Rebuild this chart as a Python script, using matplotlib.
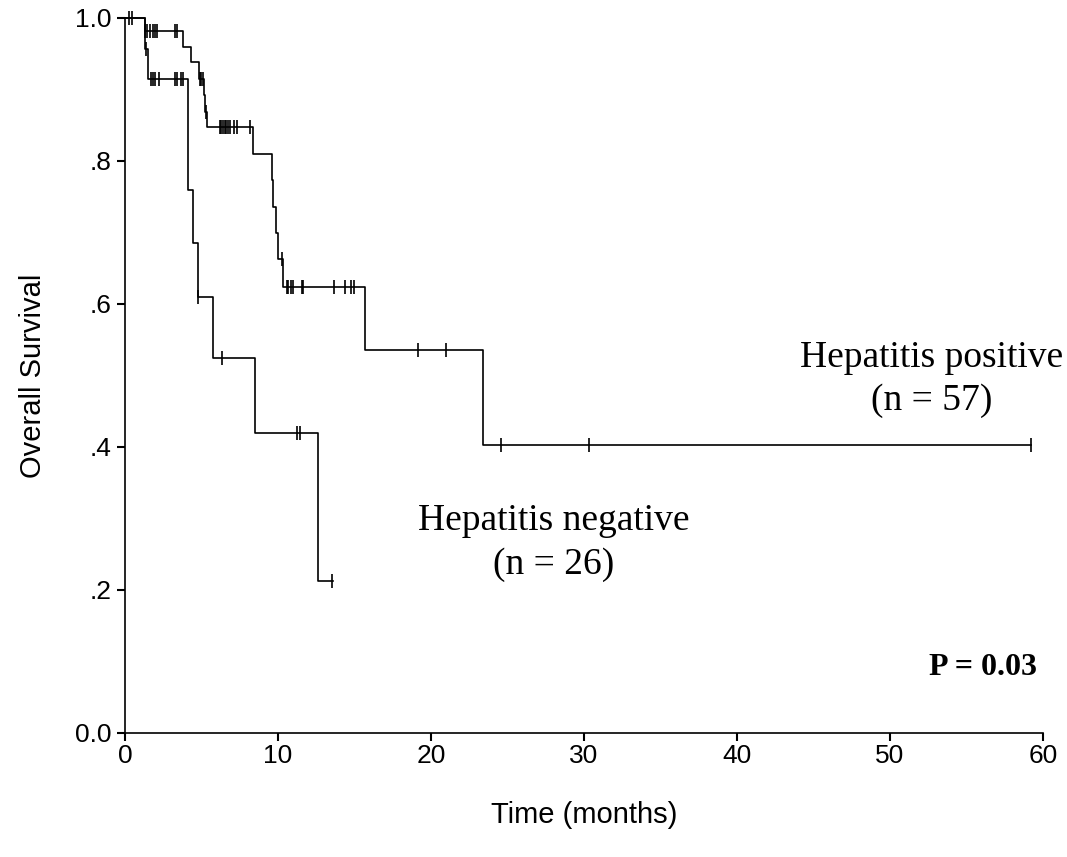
import numpy as np
import matplotlib.pyplot as plt

# Kaplan-Meier steps (time in months, survival after the step)
pos_times = [0, 1.3, 3.8, 4.3, 4.85, 5.2, 5.25, 5.38, 8.37, 9.6, 9.7, 9.85, 10.0, 10.35, 15.7, 23.4, 59.2]
pos_surv = [1.0, 0.982, 0.960, 0.938, 0.915, 0.892, 0.869, 0.847, 0.810, 0.773, 0.735, 0.699, 0.663, 0.624, 0.536, 0.402, 0.402]

neg_times = [0, 1.3, 1.5, 4.1, 4.45, 4.75, 5.76, 8.5, 12.6, 13.6]
neg_surv = [1.0, 0.957, 0.915, 0.760, 0.685, 0.610, 0.524, 0.419, 0.212, 0.212]

# censored observations
pos_cens_t = [0.3, 0.45, 1.31, 1.42, 1.63, 1.85, 2.0, 2.13, 3.27, 3.44,
              4.9, 5.0, 5.11, 5.3, 6.2, 6.3, 6.42, 6.54, 6.64, 6.75, 6.86, 7.14, 7.3, 8.17,
              10.3, 10.57, 10.68, 10.83, 11.0, 11.6, 11.65, 13.7, 14.4, 14.75, 15.0,
              19.17, 21.0, 24.6, 30.3, 59.2]
pos_cens_s = [1.0, 1.0, 0.982, 0.982, 0.982, 0.982, 0.982, 0.982, 0.982, 0.982,
              0.915, 0.915, 0.915, 0.869, 0.847, 0.847, 0.847, 0.847, 0.847, 0.847, 0.847, 0.847, 0.847, 0.847,
              0.663, 0.624, 0.624, 0.624, 0.624, 0.624, 0.624, 0.624, 0.624, 0.624, 0.624,
              0.536, 0.536, 0.402, 0.402, 0.402]

neg_cens_t = [1.37, 1.74, 1.85, 2.0, 2.24, 3.27, 3.42, 3.7, 3.8, 4.8, 6.36, 11.28, 11.43, 13.57]
neg_cens_s = [0.957, 0.915, 0.915, 0.915, 0.915, 0.915, 0.915, 0.915, 0.915, 0.610, 0.524, 0.419, 0.419, 0.212]

xticks = [0, 10, 20, 30, 40, 50, 60]
yticks = [0.0, 0.2, 0.4, 0.6, 0.8, 1.0]
ytick_labels = ['0.0', '.2', '.4', '.6', '.8', '1.0']

plt.rcParams['font.family'] = ['Liberation Sans', 'DejaVu Sans']

fig = plt.figure(figsize=(10.67, 8.57), dpi=100)
ax = fig.add_axes([0.117, 0.145, 0.8605, 0.834])

ax.step(pos_times, pos_surv, where='post', color='black', lw=1.2, clip_on=False)
ax.step(neg_times, neg_surv, where='post', color='black', lw=1.2, clip_on=False)
ax.plot(pos_cens_t, pos_cens_s, '|', color='black', ms=10, mew=1.2, clip_on=False)
ax.plot(neg_cens_t, neg_cens_s, '|', color='black', ms=10, mew=1.2, clip_on=False)

ax.set_xlim(0, 60)
ax.set_ylim(0, 1.0)
ax.set_xticks(xticks)
ax.set_yticks(yticks)
ax.set_yticklabels(ytick_labels)
ax.tick_params(axis='both', labelsize=19, direction='out', length=6, width=1.5, colors='black')
ax.tick_params(axis='x', pad=2)
ax.spines['top'].set_visible(False)
ax.spines['right'].set_visible(False)
ax.spines['left'].set_linewidth(1.2)
ax.spines['bottom'].set_linewidth(1.2)

ax.set_xlabel('Time (months)', fontsize=21, labelpad=24)
ax.set_ylabel('Overall Survival', fontsize=21, labelpad=20)

serif = ['Liberation Serif', 'DejaVu Serif']
ax.text(52.7, 0.525, 'Hepatitis positive', family=serif, fontsize=27, ha='center', va='center')
ax.text(52.7, 0.464, '(n = 57)', family=serif, fontsize=27, ha='center', va='center')
ax.text(28.0, 0.297, 'Hepatitis negative', family=serif, fontsize=27, ha='center', va='center')
ax.text(28.0, 0.235, '(n = 26)', family=serif, fontsize=27, ha='center', va='center')
ax.text(56.1, 0.091, 'P = 0.03', family=serif, fontsize=23, fontweight='bold', ha='center', va='center')

fig.savefig('out.png', dpi=100)
